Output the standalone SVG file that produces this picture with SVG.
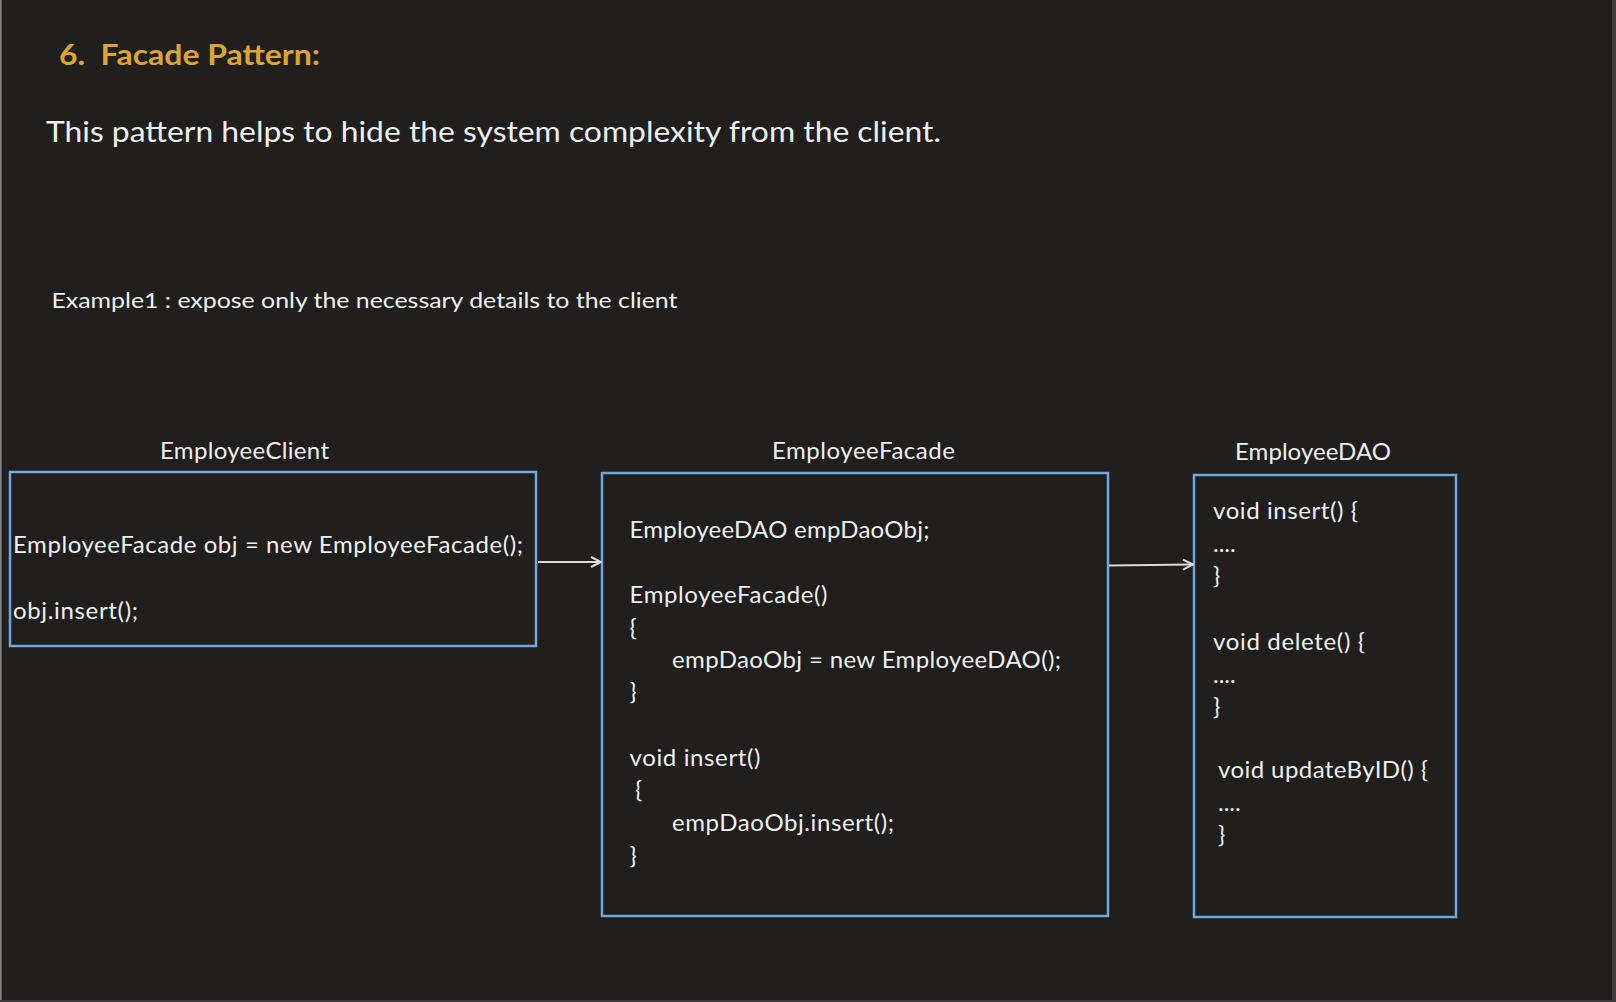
<svg xmlns="http://www.w3.org/2000/svg" width="1616" height="1002" viewBox="0 0 1616 1002">
  <defs>
    <style>
      .t { font-family: "Lato", "Open Sans", "Liberation Sans", sans-serif; fill: #efefef; }
      .code { font-size: 24px; }
      .lbl { font-size: 24px; }
      .box { fill: none; stroke: #6fa8dc; stroke-width: 2.5; }
      .conn { stroke: #dcdcdc; stroke-width: 2; fill: none; }
    </style>
    <marker id="arrow" viewBox="0 0 14 14" refX="13" refY="7" markerWidth="14" markerHeight="14" markerUnits="userSpaceOnUse" orient="auto">
      <path d="M3,2 L13,7 L3,12" fill="none" stroke="#dcdcdc" stroke-width="2"/>
    </marker>
  </defs>

  <rect x="0" y="0" width="1616" height="1002" fill="#3c3c3c"/>
  <rect x="1.5" y="0" width="1610.5" height="1000" fill="#201f1e"/>
  <line x1="0.75" y1="0" x2="0.75" y2="1000" stroke="#8a8a8a" stroke-width="1.5"/>

  <g id="header">
    <text class="t" x="59" y="65" font-size="29" font-weight="bold" style="fill:#dba534" xml:space="preserve" textLength="261" lengthAdjust="spacingAndGlyphs">6.  Facade Pattern:</text>
    <text class="t" x="46" y="142" font-size="29" textLength="895" lengthAdjust="spacingAndGlyphs">This pattern helps to hide the system complexity from the client.</text>
    <text class="t" x="51.5" y="308" font-size="22" textLength="626" lengthAdjust="spacingAndGlyphs">Example1 : expose only the necessary details to the client</text>
  </g>

  <g id="EmployeeClient">
    <text class="t lbl" x="160" y="459" textLength="169">EmployeeClient</text>
    <rect class="box" x="10" y="472" width="526" height="174"/>
    <text class="t code" x="13" y="553" textLength="510">EmployeeFacade obj = new EmployeeFacade();</text>
    <text class="t code" x="13" y="619" textLength="125">obj.insert();</text>
  </g>

  <g id="EmployeeFacade">
    <text class="t lbl" x="772" y="459" textLength="183">EmployeeFacade</text>
    <rect class="box" x="602" y="473" width="506" height="443"/>
    <text class="t code" x="629.5" y="538" textLength="300">EmployeeDAO empDaoObj;</text>
    <text class="t code" x="629.5" y="603" textLength="198">EmployeeFacade()</text>
    <text class="t code" x="629.5" y="636">{</text>
    <text class="t code" x="672" y="668" textLength="389">empDaoObj = new EmployeeDAO();</text>
    <text class="t code" x="629.5" y="700">}</text>
    <text class="t code" x="629.5" y="766" textLength="131">void insert()</text>
    <text class="t code" x="635" y="798">{</text>
    <text class="t code" x="672" y="831" textLength="222">empDaoObj.insert();</text>
    <text class="t code" x="629.5" y="864">}</text>
  </g>

  <g id="EmployeeDAO">
    <text class="t lbl" x="1235" y="460" textLength="156">EmployeeDAO</text>
    <rect class="box" x="1194" y="475" width="262" height="442"/>
    <text class="t code" x="1213" y="519" textLength="145">void insert() {</text>
    <text class="t code" x="1213" y="552">....</text>
    <text class="t code" x="1213" y="584">}</text>
    <text class="t code" x="1213" y="650" textLength="152">void delete() {</text>
    <text class="t code" x="1213" y="683">....</text>
    <text class="t code" x="1213" y="715">}</text>
    <text class="t code" x="1218" y="778" textLength="210">void updateByID() {</text>
    <text class="t code" x="1218" y="811">....</text>
    <text class="t code" x="1218" y="843">}</text>
  </g>

  <g id="connectors">
    <line class="conn" x1="538" y1="562" x2="601" y2="562" marker-end="url(#arrow)"/>
    <line class="conn" x1="1109" y1="565.5" x2="1193" y2="564.5" marker-end="url(#arrow)"/>
  </g>
</svg>
